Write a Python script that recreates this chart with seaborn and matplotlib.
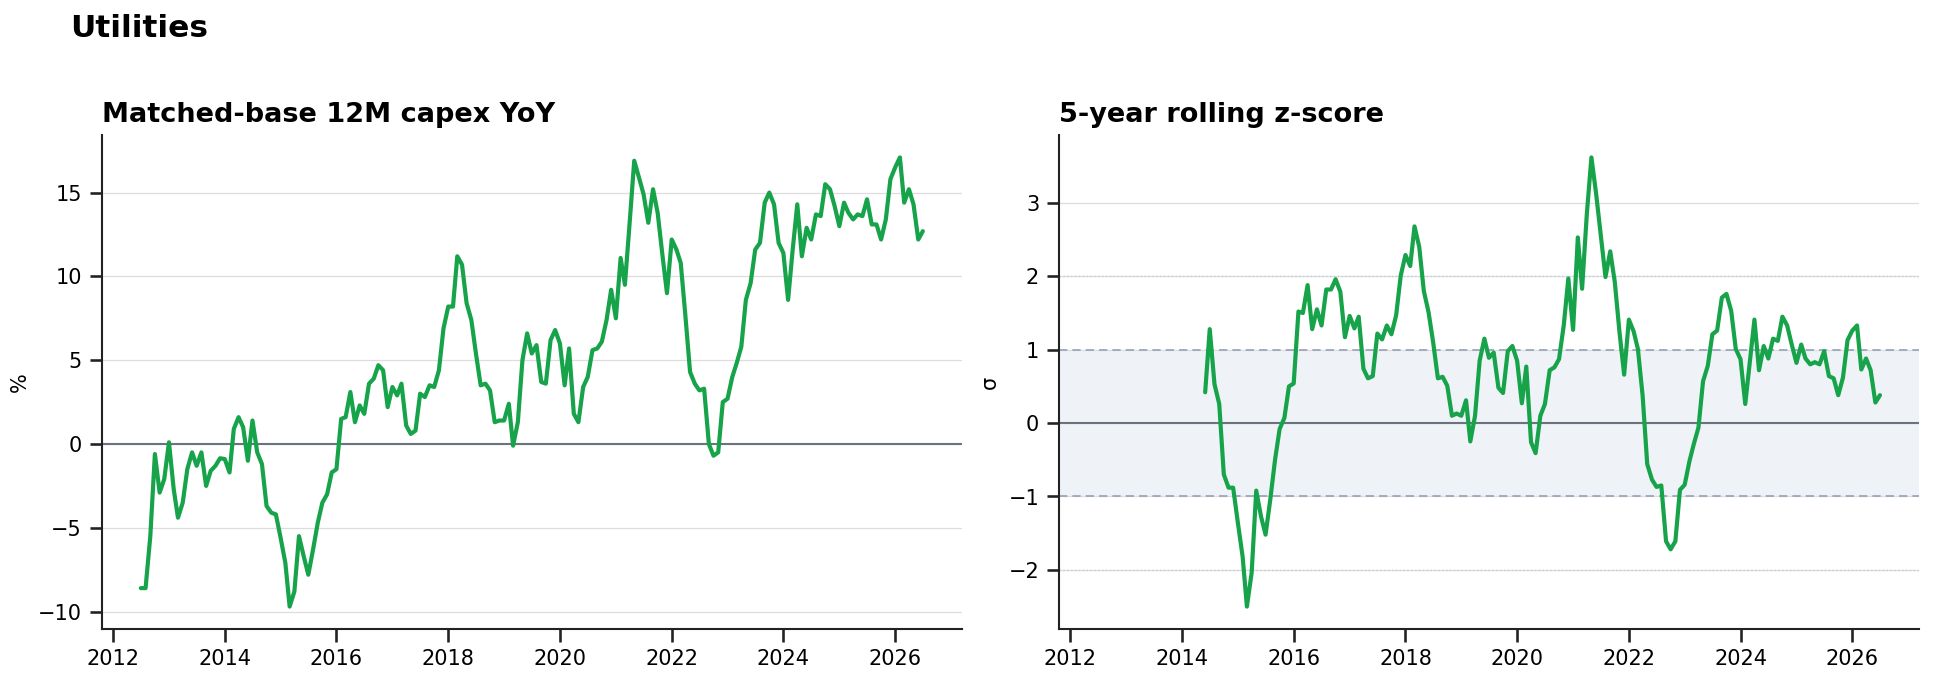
import matplotlib
matplotlib.use("Agg")
import matplotlib.pyplot as plt
import pandas as pd
import seaborn as sns

# Data (monthly)
SECTOR = "Utilities"
YOY_START = "2012-07-01"
YOY_PCT = [
    -8.6, -8.6, -5.5, -0.6, -2.9, -2.1, 0.1, -2.7, -4.4, -3.5,
    -1.5, -0.5, -1.3, -0.5, -2.5, -1.6, -1.3, -0.85, -0.9, -1.7,
    0.9, 1.6, 1.0, -1.0, 1.4, -0.5, -1.2, -3.7, -4.1, -4.2,
    -5.6, -7.1, -9.7, -8.8, -5.5, -6.7, -7.8, -6.3, -4.7, -3.5,
    -3.0, -1.7, -1.5, 1.5, 1.6, 3.1, 1.3, 2.3, 1.8, 3.6,
    3.9, 4.7, 4.4, 2.2, 3.4, 2.9, 3.6, 1.1, 0.6, 0.8,
    3.0, 2.8, 3.5, 3.4, 4.4, 6.9, 8.2, 8.2, 11.2, 10.7,
    8.4, 7.4, 5.4, 3.5, 3.6, 3.2, 1.3, 1.4, 1.4, 2.4,
    -0.1, 1.3, 5.0, 6.6, 5.4, 5.9, 3.7, 3.6, 6.2, 6.8,
    6.0, 3.5, 5.7, 1.8, 1.3, 3.4, 4.0, 5.6, 5.7, 6.1,
    7.4, 9.2, 7.5, 11.1, 9.5, 13.2, 16.9, 15.9, 14.9, 13.2,
    15.2, 13.8, 11.3, 9.0, 12.2, 11.6, 10.8, 7.6, 4.3, 3.6,
    3.2, 3.3, 0.0, -0.7, -0.5, 2.5, 2.7, 4.0, 4.8, 5.8,
    8.6, 9.6, 11.6, 12.0, 14.4, 15.0, 14.3, 12.0, 11.4, 8.6,
    11.5, 14.3, 11.2, 12.9, 12.2, 13.7, 13.6, 15.5, 15.2, 14.2,
    13.0, 14.4, 13.8, 13.4, 13.7, 13.6, 14.6, 13.1, 13.1, 12.2,
    13.4, 15.8, 16.5, 17.1, 14.4, 15.2, 14.3, 12.2, 12.7,
]

Z_START = "2014-06-01"
ZSCORE = [
    0.42, 1.28, 0.53, 0.26, -0.70, -0.88, -0.88, -1.36, -1.82, -2.50,
    -2.04, -0.92, -1.27, -1.52, -1.04, -0.50, -0.08, 0.07, 0.50, 0.54,
    1.52, 1.50, 1.88, 1.28, 1.55, 1.33, 1.82, 1.82, 1.96, 1.79,
    1.17, 1.46, 1.29, 1.45, 0.74, 0.61, 0.64, 1.22, 1.14, 1.33,
    1.21, 1.47, 2.01, 2.29, 2.14, 2.68, 2.40, 1.80, 1.51, 1.10,
    0.61, 0.63, 0.51, 0.10, 0.13, 0.10, 0.31, -0.25, 0.10, 0.85,
    1.15, 0.89, 0.96, 0.48, 0.41, 0.98, 1.05, 0.85, 0.27, 0.77,
    -0.26, -0.41, 0.10, 0.26, 0.72, 0.76, 0.87, 1.33, 1.97, 1.27,
    2.53, 1.83, 2.85, 3.62, 3.12, 2.56, 1.99, 2.34, 1.92, 1.23,
    0.66, 1.41, 1.25, 1.01, 0.37, -0.56, -0.77, -0.87, -0.85, -1.61,
    -1.72, -1.61, -0.91, -0.84, -0.52, -0.29, -0.06, 0.57, 0.78, 1.21,
    1.26, 1.71, 1.76, 1.53, 1.01, 0.87, 0.26, 0.82, 1.41, 0.72,
    1.05, 0.88, 1.15, 1.12, 1.45, 1.33, 1.07, 0.82, 1.07, 0.88,
    0.80, 0.83, 0.80, 0.98, 0.64, 0.61, 0.38, 0.62, 1.13, 1.26,
    1.33, 0.73, 0.88, 0.72, 0.28, 0.38,
]

# Style
GREEN = "#16a34a"
ZERO = "#6b7280"
BAND = "#eff3f8"
BAND_EDGE = "#94a3b8"

sns.set_theme(style="ticks")
plt.rcParams.update({
    "font.family": ["DejaVu Sans"],
    "text.color": "black",
    "axes.labelcolor": "black",
    "axes.titlecolor": "black",
    "axes.edgecolor": "#222222",
    "axes.linewidth": 1.0,
    "xtick.color": "#222222",
    "ytick.color": "#222222",
    "xtick.labelcolor": "black",
    "ytick.labelcolor": "black",
    "xtick.labelsize": 10,
    "ytick.labelsize": 10,
    "axes.labelsize": 10,
})

df_yoy = pd.DataFrame({
    "date": pd.date_range(YOY_START, periods=len(YOY_PCT), freq="MS"),
    "value": YOY_PCT,
})
df_z = pd.DataFrame({
    "date": pd.date_range(Z_START, periods=len(ZSCORE), freq="MS"),
    "value": ZSCORE,
})

fig = plt.figure(figsize=(12.893, 4.527), dpi=150)
ax1 = fig.add_axes([0.0526, 0.0736, 0.4448, 0.7276])
ax2 = fig.add_axes([0.5476, 0.0736, 0.4447, 0.7276], sharex=ax1)

# Left: YoY growth
ax1.axhline(0, color=ZERO, lw=1.0, zorder=1)
sns.lineplot(data=df_yoy, x="date", y="value", color=GREEN, lw=2.0, ax=ax1, zorder=3)
ax1.grid(axis="y", color="#dddddd", lw=0.6)
ax1.set_title("Matched-base 12M capex YoY", loc="left", fontsize=13, fontweight="bold")
ax1.set_ylabel("%")
ax1.set_xlabel("")

# Right: rolling z-score
ax2.axhspan(-1, 1, color=BAND, zorder=0, lw=0)
ax2.axhline(1, color=BAND_EDGE, lw=0.8, ls=(0, (5, 3)), zorder=1)
ax2.axhline(-1, color=BAND_EDGE, lw=0.8, ls=(0, (5, 3)), zorder=1)
ax2.axhline(2, color="#c5cedb", lw=0.7, ls=":", zorder=1)
ax2.axhline(-2, color="#c5cedb", lw=0.7, ls=":", zorder=1)
ax2.axhline(0, color=ZERO, lw=1.0, zorder=2)
sns.lineplot(data=df_z, x="date", y="value", color=GREEN, lw=2.0, ax=ax2, zorder=3)
ax2.grid(axis="y", color="#dddddd", lw=0.6)
ax2.set_title("5-year rolling z-score", loc="left", fontsize=13, fontweight="bold")
ax2.set_ylabel("σ")
ax2.set_xlabel("")
ax2.tick_params(labelbottom=True)

for ax in (ax1, ax2):
    sns.despine(ax=ax)
    ax.set_axisbelow(True)

fig.text(0.0362, 0.945, SECTOR, fontsize=15, fontweight="bold", va="baseline", ha="left")

fig.savefig("out.png", dpi=150)
